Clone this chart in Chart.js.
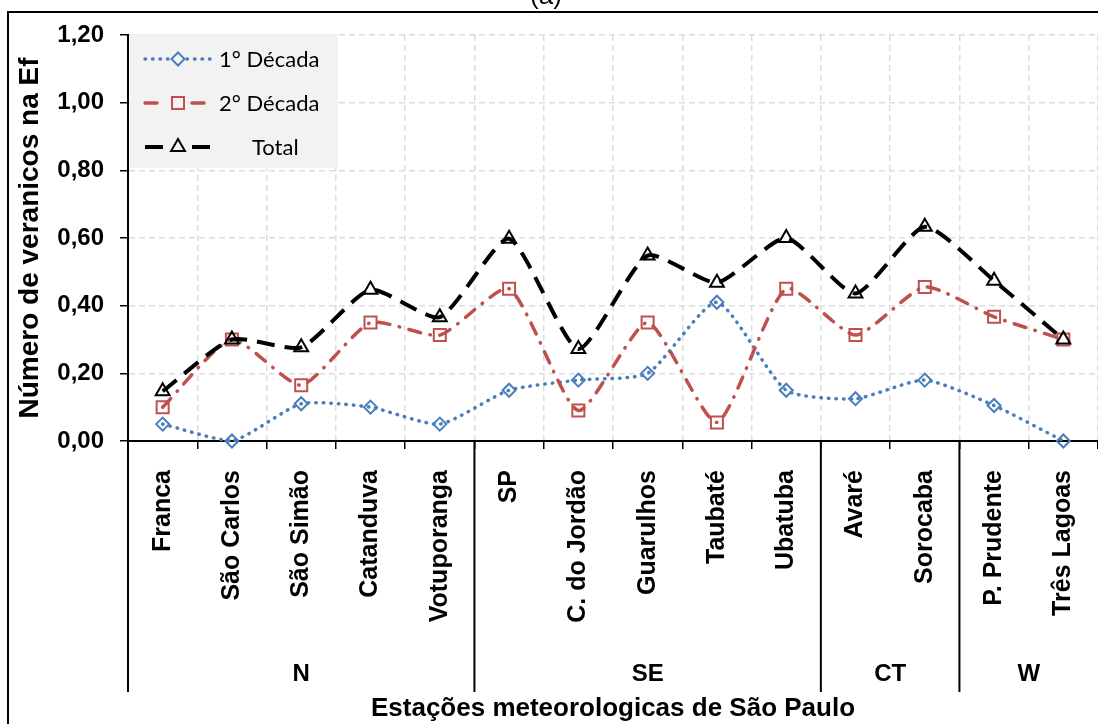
<!DOCTYPE html>
<html>
<head>
<meta charset="utf-8">
<script src="https://cdn.jsdelivr.net/npm/chart.js@4.4.0/dist/chart.umd.min.js"></script>
<style>
  html, body { margin: 0; padding: 0; background: #fff; }
  #wrap { width: 1098px; height: 724px; position: relative; }
</style>
</head>
<body>
<div id="wrap"><canvas id="veranicos-chart" width="1098" height="724"></canvas></div>
<script>
// Data
var stations = ['Franca', 'São Carlos', 'São Simão', 'Catanduva', 'Votuporanga', 'SP', 'C. do Jordão',
                'Guarulhos', 'Taubaté', 'Ubatuba', 'Avaré', 'Sorocaba', 'P. Prudente', 'Três Lagoas'];
var decada1 = [0.05, 0.00, 0.11, 0.10, 0.05, 0.15, 0.18, 0.20, 0.41, 0.15, 0.125, 0.18, 0.105, 0.00];
var decada2 = [0.10, 0.30, 0.165, 0.35, 0.313, 0.45, 0.09, 0.35, 0.055, 0.45, 0.313, 0.455, 0.367, 0.30];
var total   = [0.147, 0.30, 0.277, 0.447, 0.366, 0.598, 0.272, 0.548, 0.468, 0.60, 0.436, 0.633, 0.474, 0.30];
var groupNames = ['N', 'SE', 'CT', 'W'];
var groupSizes = [5, 5, 2, 2];
var yTicks = [0, 0.2, 0.4, 0.6, 0.8, 1.0, 1.2];

var fontArial = 'Liberation Sans, Arial, sans-serif';
var ctx = document.getElementById('veranicos-chart');

function fmt(v){
    return v.toFixed(2).replace('.', ',');
}

// Utility: draw one marker like Chart.js does
function legendMarker(c, ds, x, y){
    c.save();
    c.setLineDash([]);
    c.lineWidth = ds.pointBorderWidth;
    c.strokeStyle = ds.borderColor;
    c.fillStyle = 'rgba(0,0,0,0)';
    Chart.helpers.drawPoint(c, {pointStyle: ds.pointStyle, rotation: 0, radius: ds.pointRadius,
                                borderWidth: ds.pointBorderWidth}, x, y);
    c.restore();
}

var extras = {
    id: 'extras',
    beforeDatasetsDraw: function(chart){
        var c = chart.ctx;
        // legend box
        c.save();
        c.fillStyle = '#F2F2F2';
        c.fillRect(130, 34, 208, 134);
        var rows = [59, 103, 147];
        var textX = [219, 219, 252];
        var gaps = [9, 14, 14];
        chart.data.datasets.forEach(function(ds, i){
            var y = rows[i];
            c.strokeStyle = ds.borderColor;
            c.lineWidth = ds.borderWidth;
            c.lineCap = ds.borderCapStyle || 'butt';
            c.setLineDash(ds.borderDash);
            c.beginPath();
            c.moveTo(145, y); c.lineTo(178 - gaps[i], y);
            c.stroke();
            c.beginPath();
            c.moveTo(178 + gaps[i], y); c.lineTo(212, y);
            c.stroke();
            legendMarker(c, ds, 178, y);
            c.fillStyle = '#000';
            c.font = '22px Lato, sans-serif';
            c.textAlign = 'left';
            c.textBaseline = 'middle';
            c.fillText(ds.label, textX[i], y + 1);
        });
        c.restore();
    },
    afterDraw: function(chart){
        var c = chart.ctx;
        var xs = chart.scales.x;
        var top = chart.chartArea.bottom;
        c.save();
        // group dividers and names
        c.strokeStyle = '#000';
        c.lineWidth = 2;
        var start = 0;
        c.font = 'bold 24px ' + fontArial;
        c.fillStyle = '#000';
        c.textAlign = 'center';
        c.textBaseline = 'middle';
        groupSizes.forEach(function(n, g){
            var left = start === 0 ? chart.chartArea.left :
                (xs.getPixelForValue(start - 1) + xs.getPixelForValue(start)) / 2;
            var endIdx = start + n - 1;
            var right = endIdx === stations.length - 1 ? chart.chartArea.right :
                (xs.getPixelForValue(endIdx) + xs.getPixelForValue(endIdx + 1)) / 2;
            c.beginPath();
            c.moveTo(left, top); c.lineTo(left, 692);
            c.stroke();
            c.fillText(groupNames[g], (left + right) / 2, 674);
            start += n;
        });
        // outer frame
        c.beginPath();
        c.moveTo(8, 724); c.lineTo(8, 12); c.lineTo(1098, 12);
        c.stroke();
        // panel title
        c.font = '26px ' + fontArial;
        c.textBaseline = 'alphabetic';
        c.fillText('(a)', 546, 4);
        c.restore();
    }
};

var graph = new Chart(ctx, {
    type: 'line',
    data: {
        labels: stations,
        datasets: [{
            label: '1° Década',
            data: decada1,
            borderColor: '#4A7EBB',
            borderWidth: 3.5,
            borderDash: [0.5, 7],
            borderCapStyle: 'round',
            pointStyle: 'rectRot',
            pointRadius: 6.5,
            pointBorderWidth: 2,
            pointBackgroundColor: 'rgba(0,0,0,0)',
            pointBorderColor: '#4A7EBB',
            tension: 0.2,
            clip: false,
            order: 3
        }, {
            label: '2° Década',
            data: decada2,
            borderColor: '#C0504D',
            borderWidth: 3.5,
            borderDash: [12, 9.5, 0.5, 9.5],
            borderCapStyle: 'round',
            pointStyle: 'rect',
            pointRadius: 8.5,
            pointBorderWidth: 2,
            pointBackgroundColor: 'rgba(0,0,0,0)',
            pointBorderColor: '#C0504D',
            tension: 0.2,
            clip: false,
            order: 2
        }, {
            label: 'Total',
            data: total,
            borderColor: '#000000',
            borderWidth: 4,
            borderDash: [18, 10],
            borderCapStyle: 'butt',
            pointStyle: 'triangle',
            pointRadius: 8,
            pointBorderWidth: 2,
            pointBackgroundColor: 'rgba(0,0,0,0)',
            pointBorderColor: '#000000',
            tension: 0.2,
            clip: false,
            order: 1
        }]
    },
    options: {
        responsive: false,
        animation: false,
        layout: { autoPadding: false, padding: { top: 35, left: 0, right: 0, bottom: 0 } },
        plugins: {
            legend: { display: false },
            tooltip: { enabled: false }
        },
        scales: {
            x: {
                offset: true,
                afterFit: function(scale){
                    scale.height = 283;
                    scale.paddingLeft = 0;
                    scale.paddingRight = 0;
                },
                grid: {
                    offset: true,
                    color: '#DDDDDD',
                    lineWidth: 1.5,
                    tickColor: '#000',
                    tickLength: 8,
                    tickWidth: 1.5
                },
                border: { color: '#000', width: 2, dash: [6, 4] },
                ticks: {
                    autoSkip: false,
                    minRotation: 90,
                    maxRotation: 90,
                    padding: 21,
                    color: '#000',
                    font: { family: fontArial, weight: 'bold', size: 25 }
                },
                title: {
                    display: true,
                    text: 'Estações meteorologicas de São Paulo',
                    color: '#000',
                    padding: { top: 0, bottom: 0 },
                    font: { family: fontArial, weight: 'bold', size: 26 }
                }
            },
            y: {
                min: 0,
                max: 1.2,
                afterFit: function(scale){
                    scale.width = 128;
                    scale.paddingTop = 0;
                    scale.paddingBottom = 0;
                },
                afterBuildTicks: function(scale){
                    scale.ticks = yTicks.map(function(v){ return { value: v }; });
                },
                grid: {
                    color: '#DDDDDD',
                    lineWidth: 1.5,
                    tickColor: '#000',
                    tickLength: 8,
                    tickWidth: 1.5
                },
                border: { color: '#000', width: 2, dash: [6, 4] },
                ticks: {
                    padding: 16,
                    color: '#000',
                    font: { family: fontArial, weight: 'bold', size: 24 },
                    callback: function(v){ return fmt(v); }
                },
                title: {
                    display: true,
                    text: 'Número de veranicos na Ef',
                    color: '#000',
                    padding: { top: 13, bottom: 0 },
                    font: { family: fontArial, weight: 'bold', size: 28 }
                }
            }
        }
    },
    plugins: [extras]
});
</script>
</body>
</html>
